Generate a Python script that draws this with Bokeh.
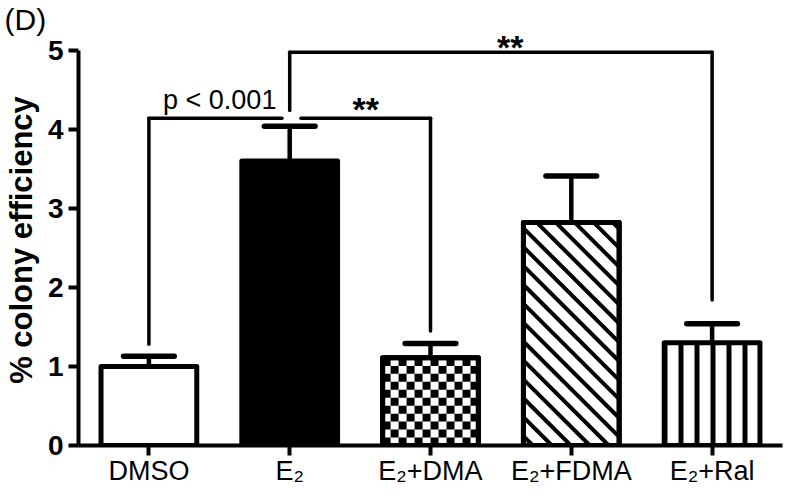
import math
from bokeh.plotting import figure
from bokeh.models import Range1d, FixedTicker, Label
from bokeh.embed import file_html
from bokeh.resources import INLINE

# ---------------- data ----------------
categories = ["DMSO", "E₂", "E₂+DMA", "E₂+FDMA", "E₂+Ral"]
means = [1.00, 3.60, 1.11, 2.82, 1.30]
sems = [0.13, 0.44, 0.18, 0.59, 0.24]
y_ticks = [0, 1, 2, 3, 4, 5]
y_label = "% colony efficiency"
panel_label = "(D)"

# significance comparisons
sig_from = ["DMSO", "E₂", "E₂"]
sig_to = ["E₂", "E₂+DMA", "E₂+Ral"]
sig_level = [4.14, 4.14, 4.975]
sig_left_leg_end = [1.28, None, 4.24]
sig_right_leg_end = [None, 1.45, 1.84]
sig_text = ["p < 0.001", "**", "**"]

# ---------------- layout & styles ----------------
FONT = "Liberation Sans"
W, H = 784, 488
B_LEFT, B_RIGHT, B_TOP, B_BOTTOM = 77, 2, 34, 41
Y_END = 5.2
PX_X = (W - B_LEFT - B_RIGHT) / len(categories)     # pixels per x unit (approx.)
PX_Y = (H - B_TOP - B_BOTTOM) / Y_END               # pixels per y unit (approx.)

bar_width = 0.68
cap_half = 0.18
bar_fill = ["white", "black", "white", "white", "white"]
bar_pattern = ["none", "none", "checker", "diag", "vlines"]
checker_px = 8
diag_spacing_px = 19
diag_width = 4
vline_scale, vline_weight = 16, 5
sig_trim_left = [0.0, 0.08, 0.0]
sig_trim_right = [0.055, 0.0, 0.0]
sig_text_dx = [0.003, 0.04, 0.066]
sig_text_dy = [0.225, 0.12, 0.065]
sig_text_size = ["27px", "34px", "34px"]
sig_text_style = ["normal", "bold", "bold"]

xpos = {c: i for i, c in enumerate(categories)}
xs = [xpos[c] for c in categories]

p = figure(width=W, height=H, output_backend="svg", toolbar_location=None,
           x_range=Range1d(-0.5, len(categories) - 0.5), y_range=Range1d(0, Y_END),
           min_border_left=B_LEFT, min_border_right=B_RIGHT,
           min_border_top=B_TOP, min_border_bottom=B_BOTTOM)
p.outline_line_color = None
p.xgrid.grid_line_color = None
p.ygrid.grid_line_color = None
p.background_fill_color = "white"
p.border_fill_color = "white"

# panel label as a left-shifted title
p.title.text = panel_label
p.title.align = "left"
p.title.offset = -B_LEFT + 3
p.title.standoff = -2
p.title.text_font = FONT
p.title.text_font_size = "30px"
p.title.text_font_style = "normal"
p.title.text_color = "black"

# error bars (upper only)
tops = [m + s for m, s in zip(means, sems)]
p.segment(x0=xs, y0=means, x1=xs, y1=tops, line_color="black", line_width=4.5)
p.segment(x0=[x - cap_half for x in xs], y0=tops, x1=[x + cap_half for x in xs], y1=tops,
          line_color="black", line_width=5.5, line_cap="round")

# bars
for i in range(len(categories)):
    xl, xr, top = xs[i] - bar_width / 2, xs[i] + bar_width / 2, means[i]
    hatch = "|" if bar_pattern[i] == "vlines" else " "
    p.vbar(x=[xs[i]], top=[top], bottom=0, width=bar_width,
           fill_color=bar_fill[i], line_color="black", line_width=5, line_join="round",
           hatch_pattern=hatch, hatch_color="black",
           hatch_scale=vline_scale, hatch_weight=vline_weight)
    if bar_pattern[i] == "checker":
        cw, ch = checker_px / PX_X, checker_px / PX_Y
        L, R, B, T = [], [], [], []
        for r in range(math.ceil(top / ch)):
            for c in range(math.ceil((xr - xl) / cw)):
                if (r + c) % 2 == 0:
                    l0, b0 = xl + c * cw, r * ch
                    L.append(l0)
                    R.append(min(l0 + cw, xr))
                    B.append(b0)
                    T.append(min(b0 + ch, top))
        p.quad(left=L, right=R, bottom=B, top=T, fill_color="black", line_color=None)
    if bar_pattern[i] == "diag":
        k = PX_X / PX_Y                      # 45 degrees on screen
        step = k * diag_spacing_px / PX_X
        X0, Y0, X1, Y1 = [], [], [], []
        cval = k * xl + step * 0.5
        while cval < top + k * xr:
            xa = max(xl, (cval - top) / k)
            xb = min(xr, cval / k)
            if xa < xb:
                X0.append(xa); Y0.append(cval - k * xa)
                X1.append(xb); Y1.append(cval - k * xb)
            cval += step
        p.segment(x0=X0, y0=Y0, x1=X1, y1=Y1, line_color="black", line_width=diag_width)
    if bar_pattern[i] in ("checker", "diag"):
        p.vbar(x=[xs[i]], top=[top], bottom=0, width=bar_width, fill_color=None,
               line_color="black", line_width=5, line_join="round")

# significance brackets
for k_ in range(len(sig_from)):
    xa, xb, lvl = xpos[sig_from[k_]], xpos[sig_to[k_]], sig_level[k_]
    p.segment(x0=[xa + sig_trim_left[k_]], y0=[lvl], x1=[xb - sig_trim_right[k_]], y1=[lvl],
              line_color="black", line_width=3.5, line_cap="round")
    if sig_left_leg_end[k_] is not None:
        p.segment(x0=[xa], y0=[lvl], x1=[xa], y1=[sig_left_leg_end[k_]],
                  line_color="black", line_width=3.5, line_cap="round")
    if sig_right_leg_end[k_] is not None:
        p.segment(x0=[xb], y0=[lvl], x1=[xb], y1=[sig_right_leg_end[k_]],
                  line_color="black", line_width=3.5, line_cap="round")
    p.add_layout(Label(x=(xa + xb) / 2 + sig_text_dx[k_], y=lvl + sig_text_dy[k_],
                       text=sig_text[k_], text_font=FONT, text_font_size=sig_text_size[k_],
                       text_font_style=sig_text_style[k_], text_color="black",
                       text_align="center", text_baseline="alphabetic"))

# axes
for ax in (p.xaxis[0], p.yaxis[0]):
    ax.axis_line_width = 4
    ax.axis_line_color = "black"
    ax.major_tick_line_width = 4
    ax.major_tick_line_color = "black"
    ax.minor_tick_line_color = None
    ax.major_tick_in = 0
    ax.major_tick_out = 10
    ax.major_label_text_color = "black"
    ax.major_label_text_font = FONT

p.xaxis.ticker = FixedTicker(ticks=xs)
p.xaxis.major_label_overrides = {xpos[c]: c for c in categories}
p.xaxis.major_label_text_font_size = "27px"
p.xaxis.major_label_standoff = 0

p.yaxis.ticker = FixedTicker(ticks=y_ticks)
p.yaxis.bounds = (0, 5)
p.yaxis.major_label_text_font_size = "28px"
p.yaxis.major_label_text_font_style = "bold"
p.yaxis.major_label_standoff = 5
p.yaxis.axis_label = y_label
p.yaxis.axis_label_text_font = FONT
p.yaxis.axis_label_text_font_size = "31px"
p.yaxis.axis_label_text_font_style = "bold"
p.yaxis.axis_label_text_color = "black"
p.yaxis.axis_label_standoff = 6

open("out.html", "w").write(file_html(p, INLINE))
